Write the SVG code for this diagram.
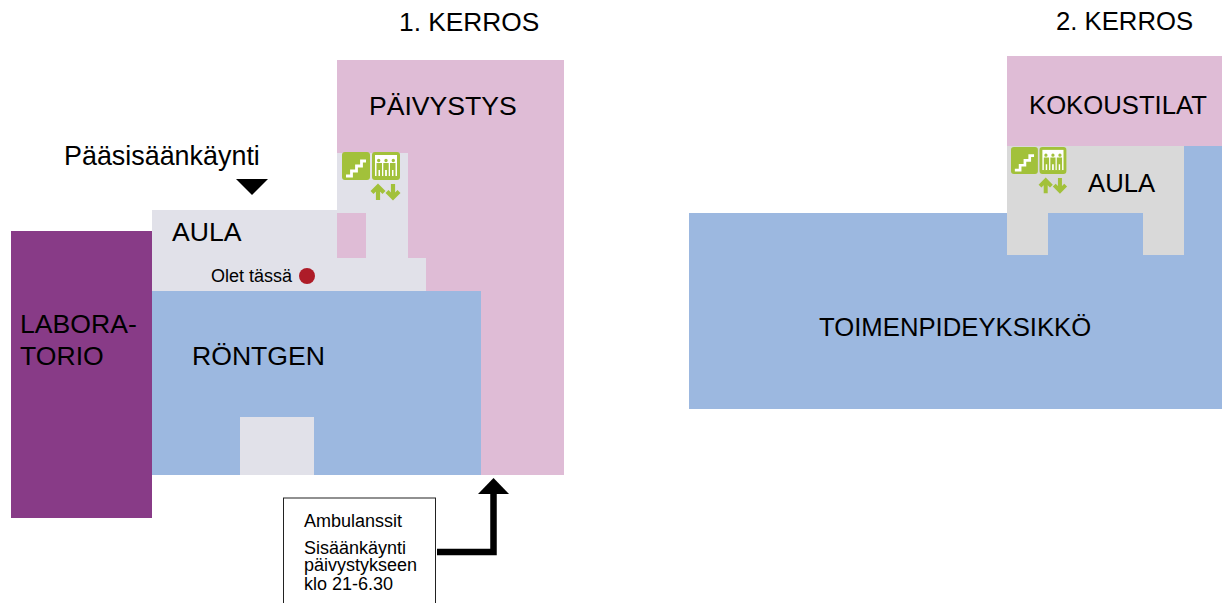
<svg xmlns="http://www.w3.org/2000/svg" width="1222" height="603" viewBox="0 0 1222 603">
<style>
text{font-family:"Liberation Sans",Arial,sans-serif;fill:#000}
.l{font-size:26.6px}
.m{font-size:25.7px}
.t1{font-size:26.3px}
.s{font-size:18px}
.pink{fill:#dfbcd6}.blue{fill:#9cb8e0}.gray1{fill:#e1e1e9}.gray2{fill:#d9d9d9}
.ic{fill:#a2c13a}
.w{fill:none;stroke:#fff;stroke-width:2.800}
.ar{fill:none;stroke:#a2c13a;stroke-width:4.200}
</style>
<defs>
<g id="stair"><rect width="28" height="28" rx="3" class="ic"/><path class="w" d="M4 24h5.500v-5h5v-5h5V9h4.500"/></g>
<g id="lift"><rect width="28" height="28" rx="3" class="ic"/><rect x="3" y="3" width="22" height="21" fill="#fff"/><path class="ic" d="M5 8.500a1.700 1.700 0 1 1 3.400 0a1.700 1.700 0 1 1-3.400 0zM12.300 8.500a1.700 1.700 0 1 1 3.400 0a1.700 1.700 0 1 1-3.400 0zM19.600 8.500a1.700 1.700 0 1 1 3.400 0a1.700 1.700 0 1 1-3.400 0z"/><path class="ic" d="M4.500 11h5.500v13H8v-6H6.500v6h-2zM11.300 11h5.400v13h-1.800v-6h-1.800v6h-1.800zM18 11h5.500v13h-2v-6H20v6h-2z"/></g>
<g id="updown"><path class="ar" d="M6 16V2M0 8.500L6 2.500L12 8.500M21 0v14M15 7.500L21 13.500L27 7.500"/></g>
</defs>
<g id="floor1">
<g id="paivystys"><path class="pink" d="M337 60H564V475H481V291H426V258H337Z"/><text class="l" x="369" y="115">PÄIVYSTYS</text></g>
<g id="aula1"><path class="gray1" d="M152 210H337V153H408V258H426V291H152Z"/><rect class="pink" x="337" y="213" width="29" height="45"/><text class="l" x="172" y="241">AULA</text><text class="s" x="211" y="282">Olet tässä</text><circle cx="307" cy="276" r="8" fill="#ae1c28"/></g>
<g id="rontgen"><rect class="blue" x="152" y="291" width="329" height="184"/><rect class="gray1" x="240" y="417" width="74" height="58"/><text class="l" x="192" y="365">RÖNTGEN</text></g>
<g id="laboratorio"><rect x="11" y="231" width="141" height="287" fill="#883b87"/><text class="l"><tspan x="20" y="333">LABORA-</tspan><tspan x="20" y="365">TORIO</tspan></text></g>
<g id="icons1"><use href="#stair" x="342" y="152"/><use href="#lift" x="372" y="152"/><use href="#updown" x="372" y="184"/></g>
<g id="paasisaankaynti"><text x="64" y="165" style="font-size:26.900px">Pääsisäänkäynti</text><path d="M236 179H268L252 195Z" fill="#000"/></g>
<g id="ambulanssit"><rect x="283.500" y="498" width="152" height="110" fill="#fff" stroke="#222" stroke-width="1"/><text class="s" x="304" y="527">Ambulanssit</text><text class="s"><tspan x="304" y="554">Sisäänkäynti</tspan><tspan x="304" y="571">päivystykseen</tspan><tspan x="304" y="590">klo 21-6.30</tspan></text></g>
<text id="title1" class="t1" x="399" y="31">1. KERROS</text>
</g>
<g id="floor2">
<g id="toimenpideyksikko"><path class="blue" d="M689 213H1007V146H1222V409H689Z"/><text class="m" x="819" y="336">TOIMENPIDEYKSIKKÖ</text></g>
<g id="aula2"><path class="gray2" d="M1007 146H1184V255H1143V213H1048V255H1007Z"/><text class="m" x="1088" y="192">AULA</text></g>
<g id="kokoustilat"><rect class="pink" x="1007" y="56" width="215" height="90"/><text class="m" x="1029" y="114">KOKOUSTILAT</text></g>
<g id="icons2"><use href="#stair" transform="translate(1011 147) scale(.96)"/><use href="#lift" transform="translate(1039.500 147) scale(.96)"/><use href="#updown" transform="translate(1040 178) scale(.95)"/></g>
<text id="title2" class="m" x="1056" y="30">2. KERROS</text>
</g>
<g id="connectors"><path d="M437 552H493.500V492" fill="none" stroke="#000" stroke-width="6.500"/><path d="M478 494L493.500 478L509 494Z" fill="#000"/></g>
</svg>
